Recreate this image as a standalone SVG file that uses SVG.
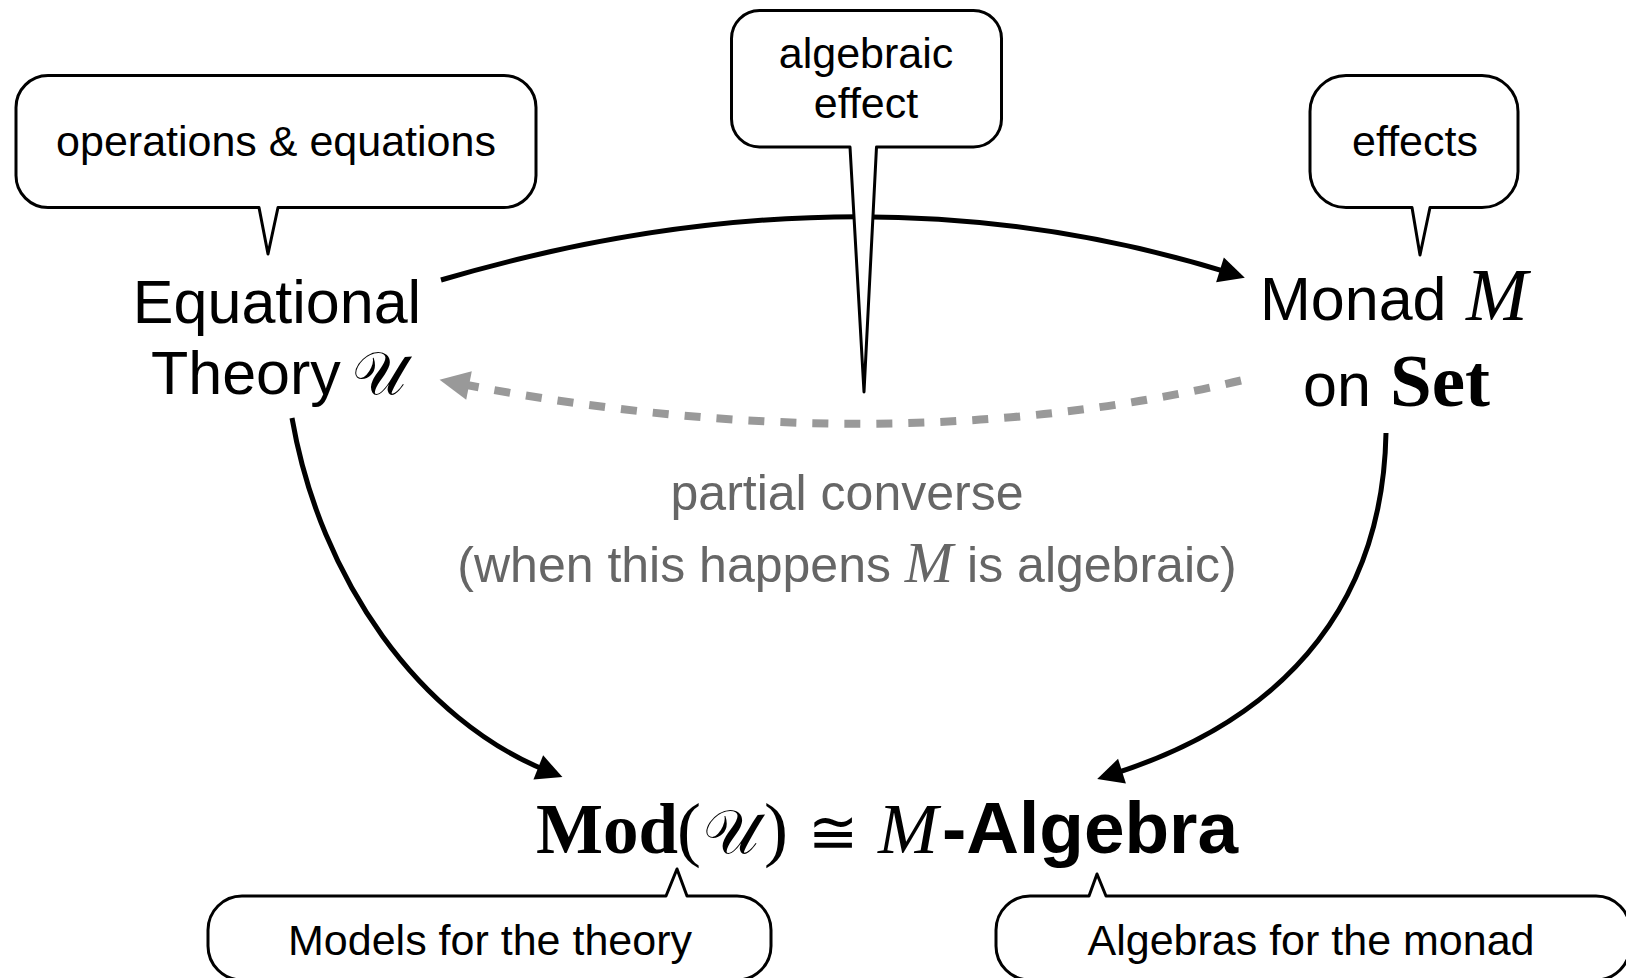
<svg xmlns="http://www.w3.org/2000/svg" width="1626" height="978" viewBox="0 0 1626 978">
  <defs>
    <style>
      .bub { fill: #fff; stroke: #000; stroke-width: 3; stroke-linejoin: round; }
      .bt { font-family: "Liberation Sans", Arial, sans-serif; font-size: 43px; fill: #000; text-anchor: middle; }
      .nt { font-family: "Liberation Sans", Arial, sans-serif; font-size: 61px; fill: #000; }
      .mi { font-family: "Liberation Serif", "Times New Roman", serif; font-style: italic; }
      .mb { font-family: "Liberation Serif", "Times New Roman", serif; font-weight: bold; }
      .mr { font-family: "Liberation Serif", "Times New Roman", serif; }
      .scr { font-family: "DejaVu Serif", "DejaVu Sans", serif; }
      .sb { font-family: "Liberation Sans", Arial, sans-serif; font-weight: bold; }
      .edge { fill: none; stroke: #000; stroke-width: 5; }
      .dash { fill: none; stroke: #999; stroke-width: 8; stroke-dasharray: 16 16; }
      .gt { font-family: "Liberation Sans", Arial, sans-serif; font-size: 50px; fill: #666; text-anchor: middle; }
    </style>
    <marker id="ah" markerUnits="userSpaceOnUse" markerWidth="30" markerHeight="30" refX="11" refY="13" orient="auto" overflow="visible">
      <path d="M0,0 L26,13 L0,26 Z" fill="#000"/>
    </marker>
    <marker id="ahg" markerUnits="userSpaceOnUse" markerWidth="34" markerHeight="34" refX="16" refY="14.5" orient="auto" overflow="visible">
      <path d="M0,0 L30,14.5 L0,29 Z" fill="#999"/>
    </marker>
  </defs>

  <g id="connectors">
    <path class="edge" d="M441,280 Q858,157 1230.5,273.2" marker-end="url(#ah)"/>
    <path class="dash" d="M1241,380.5 Q880,466 453.3,382.4" marker-end="url(#ahg)"/>
    <path class="edge" d="M292,418 C320,580 420,720 548.5,771.5" marker-end="url(#ah)"/>
    <path class="edge" d="M1386,433 C1383,590 1300,715 1111.5,774.5" marker-end="url(#ah)"/>
  </g>

  <g id="bubble-operations">
    <path class="bub" d="M48,75.5 H504 A32,32 0 0 1 536,107.5 V175.5 A32,32 0 0 1 504,207.5 H278 L268,254 L259,207.5 H48 A32,32 0 0 1 16,175.5 V107.5 A32,32 0 0 1 48,75.5 Z"/>
    <text class="bt" x="276" y="156">operations &amp; equations</text>
  </g>

  <g id="bubble-algebraic-effect">
    <path class="bub" d="M759.5,10.5 H973.5 A28,28 0 0 1 1001.5,38.5 V119 A28,28 0 0 1 973.5,147 H876.5 L864,392 L850,147 H759.5 A28,28 0 0 1 731.5,119 V38.5 A28,28 0 0 1 759.5,10.5 Z"/>
    <text class="bt" x="866" y="68">algebraic</text>
    <text class="bt" x="866" y="118">effect</text>
  </g>

  <g id="bubble-effects">
    <path class="bub" d="M1346,75.5 H1482 A36,36 0 0 1 1518,111.5 V171.5 A36,36 0 0 1 1482,207.5 H1430 L1420,255 L1412,207.5 H1346 A36,36 0 0 1 1310,171.5 V111.5 A36,36 0 0 1 1346,75.5 Z"/>
    <text class="bt" x="1415" y="156">effects</text>
  </g>

  <g id="node-theory">
    <text class="nt" x="277" y="323" text-anchor="middle">Equational</text>
    <text class="nt" y="394"><tspan x="151">Theory</tspan><tspan class="scr" x="352" font-size="60">𝒰</tspan></text>
  </g>

  <g id="node-monad">
    <text class="nt" y="320"><tspan x="1260">Monad</tspan><tspan class="mi" x="1466" font-size="74">M</tspan></text>
    <text class="nt" y="406"><tspan x="1303">on</tspan><tspan class="mb" x="1390" font-size="75">Set</tspan></text>
  </g>

  <g id="node-converse-label">
    <text class="gt" x="847" y="510">partial converse</text>
    <text class="gt" x="847" y="582">(when this happens <tspan class="mi" font-size="58">M</tspan> is algebraic)</text>
  </g>

  <g id="node-equivalence">
    <text y="853" font-size="72" fill="#000"><tspan class="mb" x="536" font-size="71">Mod</tspan><tspan class="mr" x="677">(</tspan><tspan class="scr" x="703" font-size="62">𝒰</tspan><tspan class="mr" x="764">)</tspan><tspan class="scr" x="808" font-size="60">≅</tspan><tspan class="mi" x="878">M</tspan><tspan class="sb" x="942" font-size="73">-Algebra</tspan></text>
  </g>

  <g id="bubble-models">
    <path class="bub" d="M242,896 H666 L677,869 L687,896 H737 A34,34 0 0 1 771,930 V946 A34,34 0 0 1 737,980 H242 A34,34 0 0 1 208,946 V930 A34,34 0 0 1 242,896 Z"/>
    <text class="bt" x="490" y="955">Models for the theory</text>
  </g>

  <g id="bubble-algebras">
    <path class="bub" d="M1030,896 H1089 L1097,874 L1106,896 H1596 A34,34 0 0 1 1630,930 V946 A34,34 0 0 1 1596,980 H1030 A34,34 0 0 1 996,946 V930 A34,34 0 0 1 1030,896 Z"/>
    <text class="bt" x="1311" y="955">Algebras for the monad</text>
  </g>
</svg>
